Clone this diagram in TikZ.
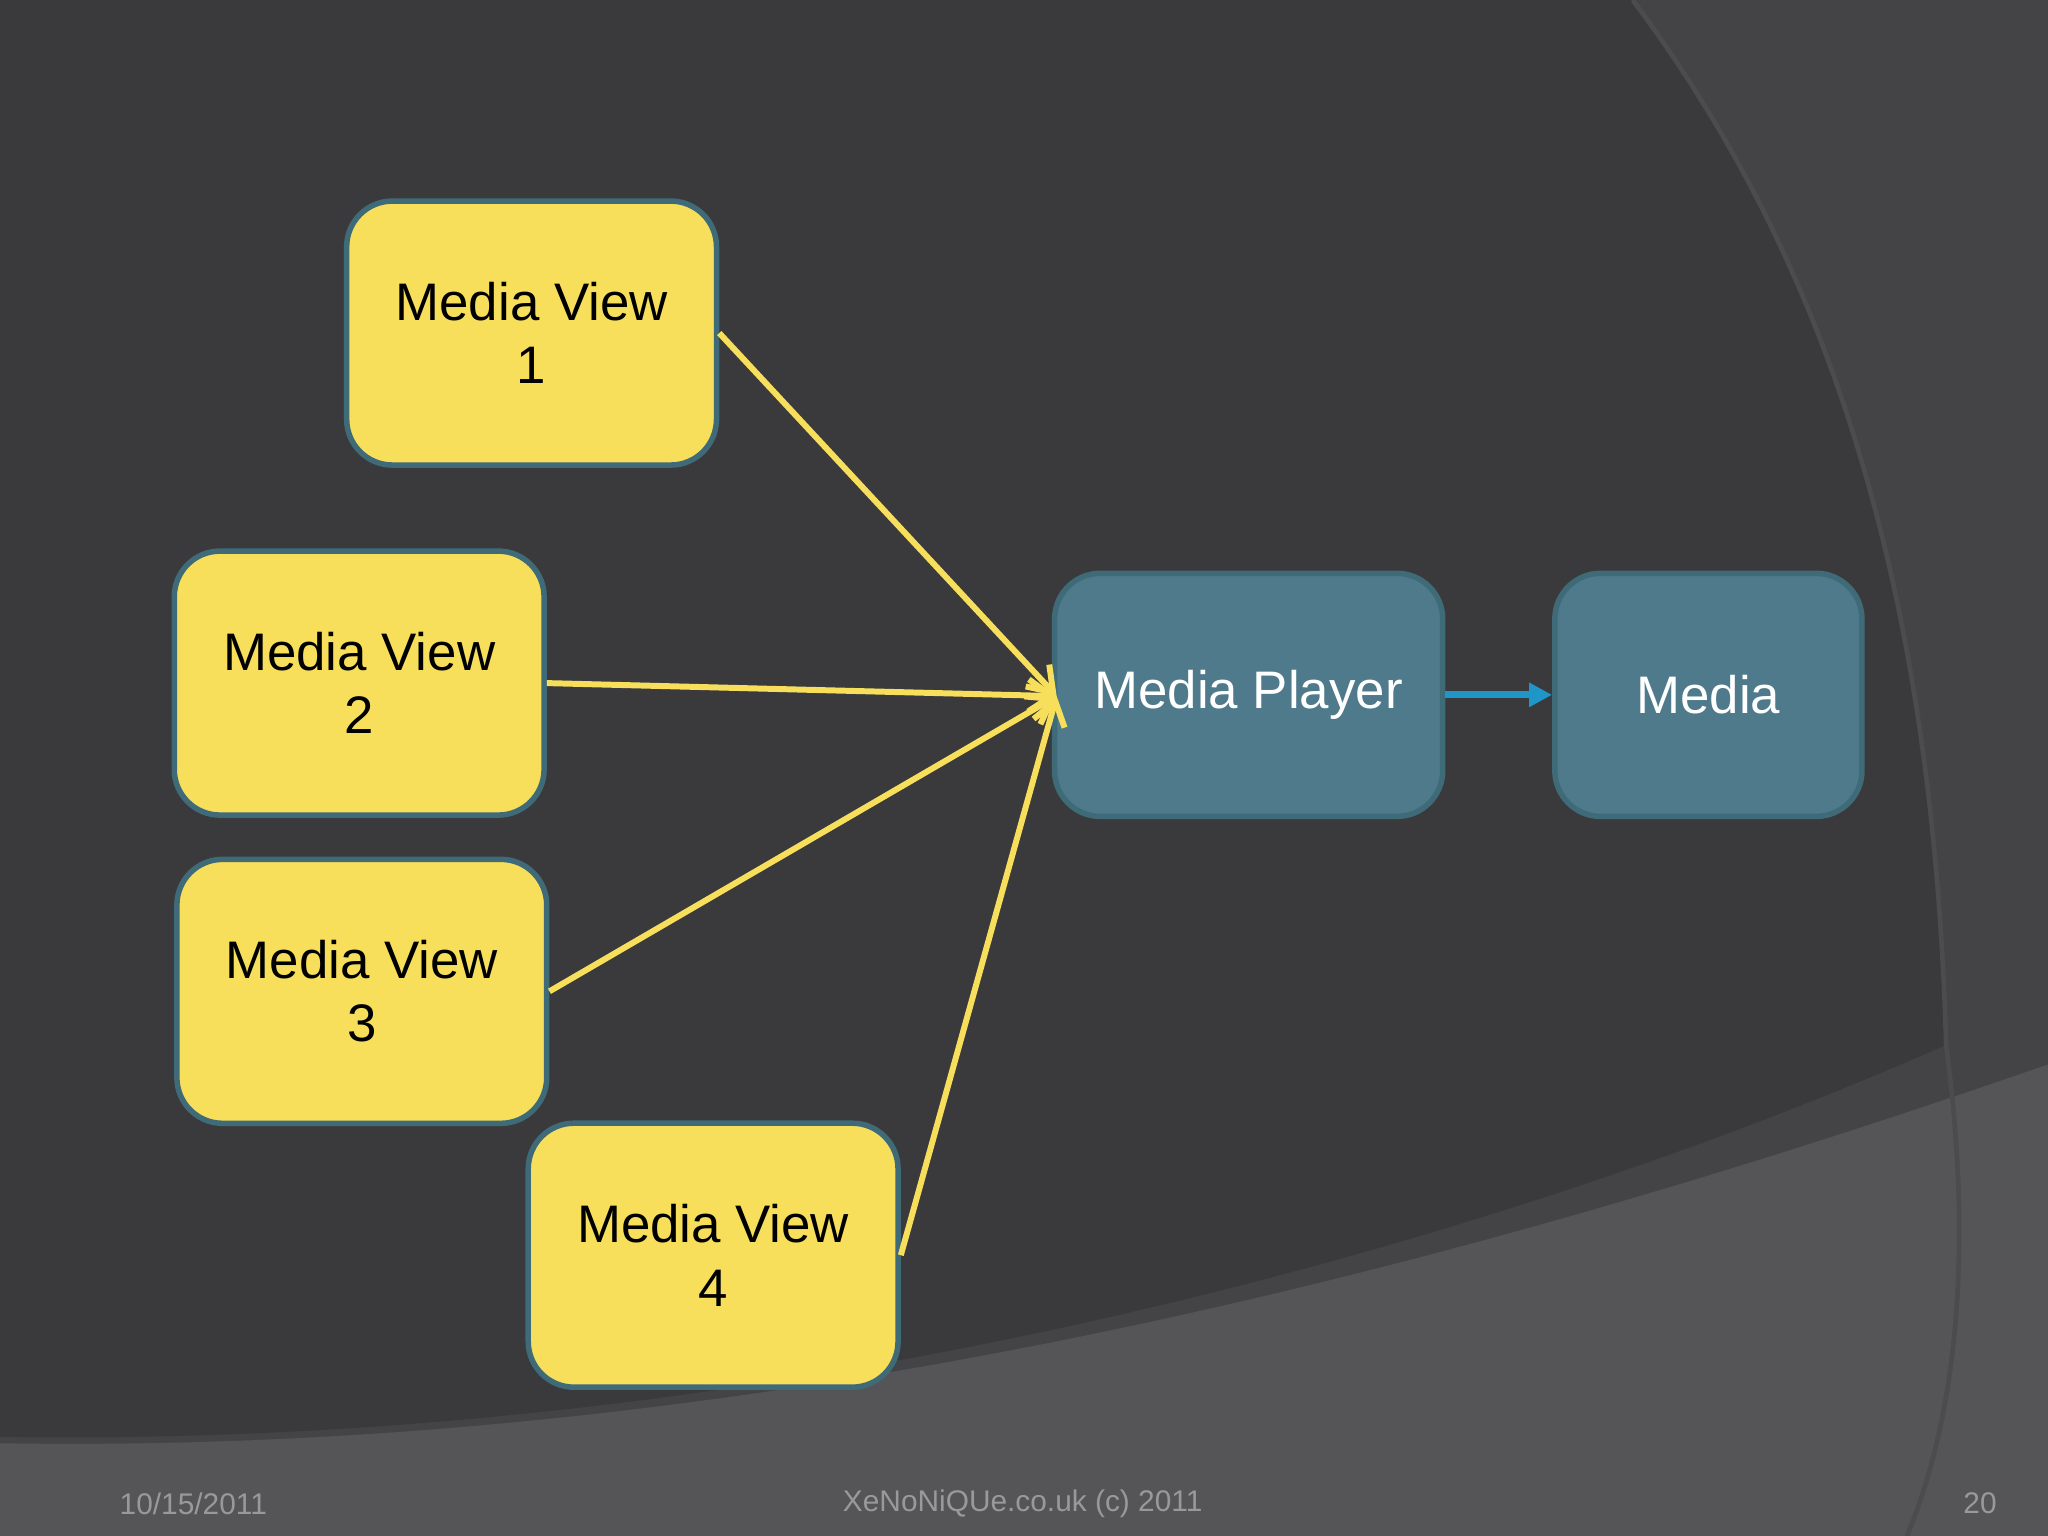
\documentclass[tikz,border=0pt]{standalone}
\usepackage{fontspec}
\setmainfont{Liberation Sans}
\usetikzlibrary{arrows.meta}
\definecolor{bg}{HTML}{3A3A3C}
\definecolor{bgl}{HTML}{444446}
\definecolor{band}{HTML}{555457}
\definecolor{yel}{HTML}{F7DF5B}
\definecolor{tealb}{HTML}{4E7A8C}
\definecolor{edge}{HTML}{3F6A78}
\begin{document}
\begin{tikzpicture}[x=0.01cm,y=-0.01cm,
  yb/.style={draw=edge,line width=1.2pt,fill=yel,rounded corners=0.35cm,minimum width=2.83cm,minimum height=2.02cm,align=center,font=\fontsize{11.5}{13.8}\selectfont,text=black},
  tb/.style={draw=edge,line width=1.2pt,fill=tealb,rounded corners=0.35cm,minimum height=1.86cm,align=center,font=\fontsize{11.5}{13.8}\selectfont,text=white},
  ya/.style={draw=yel,line width=1.3pt,-{Straight Barb[length=5pt,width=7pt]}},
  foot/.style={text=gray!80,font=\fontsize{6.5}{8}\selectfont}]
\useasboundingbox (0,0) rectangle (1568,1176);
\fill[bgl] (0,0) rectangle (1568,1176);
\fill[bg] (0,0) -- (1250,0) .. controls (1400,200) and (1480,450) .. (1490,800) .. controls (1150,950) and (600,1110) .. (0,1100) -- cycle;
\fill[band] (0,1105) .. controls (600,1115) and (1150,960) .. (1568,815) -- (1568,1176) -- (0,1176) -- cycle;
\draw[black!70,line width=1pt] (1250,0) .. controls (1400,200) and (1480,450) .. (1490,800) .. controls (1510,950) and (1500,1080) .. (1460,1176);
\node[yb] (m1) at (407,255) {Media View\\1};
\node[yb] (m2) at (275,523) {Media View\\2};
\node[yb] (m3) at (277,759) {Media View\\3};
\node[yb] (m4) at (546,961) {Media View\\4};
\node[tb,minimum width=2.97cm] (mp) at (956,532) {Media Player};
\node[tb,minimum width=2.35cm] (md) at (1308,532) {Media};
\coordinate (t) at (809,533);
\draw[ya] (m1.east) -- (t);
\draw[ya] (m2.east) -- (t);
\draw[ya] (m3.east) -- (t);
\draw[ya] (m4.east) -- (t);
\draw[draw={rgb,255:red,30;green,150;blue,200},line width=1.5pt,-{Triangle[length=5pt,width=5pt]}] (mp.east) -- (md.west);
\node[foot] (d) at (148,1151) {10/15/2011};
\node[foot] (c) at (783,1151) {XeNoNiQUe.co.uk (c) 2011};
\node[foot] (n) at (1516,1151) {20};
\end{tikzpicture}
\end{document}
